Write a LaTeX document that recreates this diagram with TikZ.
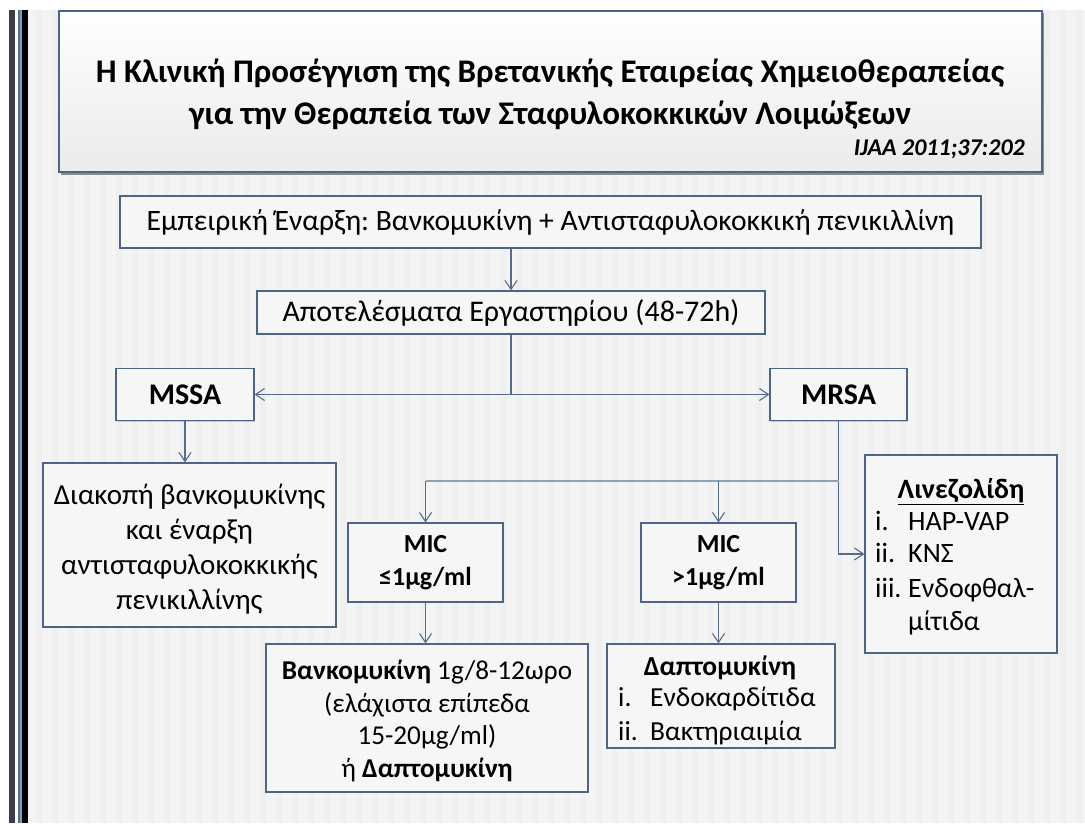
\documentclass[tikz,border=0pt]{standalone}
\usepackage{fontspec}
\setmainfont{Carlito}
\usetikzlibrary{arrows.meta,shadows}
\definecolor{bord}{HTML}{4A6587}
\definecolor{conncol}{HTML}{526D8E}
\definecolor{connlight}{HTML}{8EA3BA}
\definecolor{bgcol}{HTML}{F4F4F4}
\definecolor{stripecol}{HTML}{EFEFEF}
\definecolor{boxfill}{HTML}{F6F6F6}
\definecolor{barA}{HTML}{3C3C4A}
\definecolor{barB}{HTML}{5A6E8C}
\definecolor{barC}{HTML}{7C9CC8}
\frenchspacing
\begin{document}
\begin{tikzpicture}[x=1pt,y=-1pt,
  fbox/.style={draw=bord, line width=1.2pt, fill=boxfill, inner sep=0pt, align=center,
    drop shadow={shadow xshift=1pt, shadow yshift=-1pt, opacity=0.35}},
  conn/.style={draw=conncol, line width=1.1pt},
  connl/.style={draw=connlight, line width=1.1pt},
  arr/.style={conn, -{Straight Barb[length=9pt,width=12pt,line width=1.1pt]}},
  txt/.style={inner sep=0pt, font=\fontsize{28}{33}\selectfont},
]
\useasboundingbox (0,0) rectangle (1085,823);
% background
\fill[white] (0,0) rectangle (1085,823);
\fill[bgcol] (28,10) rectangle (1085,823);
\foreach \sx in {36,52,...,1085} \fill[stripecol] (\sx,10) rectangle ++(6,813);
% left bars
\fill[barA] (9,10) rectangle (15,823);
\fill[barB] (17.5,10) rectangle (20,823);
\fill[barC] (20,10) rectangle (22,823);
\fill[black] (22,10) rectangle (28,823);
% title box
\fill[black!45] (61,13) rectangle (1044,174.5);
\shade[top color=white, bottom color=black!8] (59,11) rectangle (1042,172);
\draw[draw=bord, line width=1.8pt] (59,11) rectangle (1042,172);
\node[inner sep=0pt, align=center, font=\fontsize{33}{42}\bfseries\selectfont] (title) at (550,94)
  {Η Κλινική Προσέγγιση της Βρετανικής Εταιρείας Χημειοθεραπείας\\για την Θεραπεία των Σταφυλοκοκκικών Λοιμώξεων};
\node[inner sep=0pt, anchor=east, font=\fontsize{24}{26}\bfseries\itshape\selectfont] (ref) at (1025,149) {IJAA 2011;37:202};
% boxes
\node[fbox, minimum width=861pt, minimum height=52pt, font=\fontsize{29.6}{34}\selectfont] (b1) at (550.5,222)
  {Εμπειρική Έναρξη: Βανκομυκίνη + Αντισταφυλοκοκκική πενικιλλίνη};
\node[fbox, minimum width=508pt, minimum height=43pt, font=\fontsize{30}{34}\selectfont] (b2) at (511,312.5)
  {Αποτελέσματα Εργαστηρίου (48-72h)};
\node[fbox, minimum width=138pt, minimum height=52pt, font=\fontsize{30}{34}\bfseries\selectfont] (mssa) at (185,394.5) {MSSA};
\node[fbox, minimum width=137pt, minimum height=52pt, font=\fontsize{30}{34}\bfseries\selectfont] (mrsa) at (838.5,394.5) {MRSA};
\node[fbox, minimum width=293pt, minimum height=164pt] (diak) at (189.5,545) {};
\node[txt, align=center, font=\fontsize{29}{35}\selectfont] (diakT) at (189.5,549.5)
  {Διακοπή βανκομυκίνης\\και έναρξη\\αντισταφυλοκοκκικής\\πενικιλλίνης};
\node[fbox, minimum width=155pt, minimum height=79pt, font=\fontsize{26}{33}\bfseries\selectfont] (mic1) at (425.5,562.5)
  {MIC\\≤1μg/ml};
\node[fbox, minimum width=155pt, minimum height=79pt, font=\fontsize{26}{33}\bfseries\selectfont] (mic2) at (718.5,562.5)
  {MIC\\>1μg/ml};
\node[fbox, minimum width=192pt, minimum height=198pt] (lin) at (961,554) {};
\node[fbox, minimum width=322pt, minimum height=148pt] (vanc) at (427,718) {};
\node[txt, align=center, font=\fontsize{27.2}{32.5}\selectfont] (vancT) at (427,721)
  {\textbf{Βανκομυκίνη} 1g/8-12ωρο\\(ελάχιστα επίπεδα\\15-20μg/ml)\\ή \textbf{Δαπτομυκίνη}};
\node[fbox, minimum width=228pt, minimum height=104pt] (dapt) at (721,696) {};
% linezolid text
\node[txt, anchor=base, font=\fontsize{28}{34}\bfseries\selectfont] (linH) at (961,498) {\underline{Λινεζολίδη}};
\node[txt, anchor=base west] (linI1) at (875,530) {i.};
\node[txt, anchor=base west] (linT1) at (908,530) {HAP-VAP};
\node[txt, anchor=base west] (linI2) at (875,562) {ii.};
\node[txt, anchor=base west] (linT2) at (908,562) {ΚΝΣ};
\node[txt, anchor=base west] (linI3) at (875,597) {iii.};
\node[txt, anchor=base west] (linT3) at (908,597) {Ενδοφθαλ-};
\node[txt, anchor=base west] (linT4) at (908,630) {μίτιδα};
% daptomycin text
\node[txt, anchor=base, font=\fontsize{27.5}{34}\bfseries\selectfont] (dapH) at (720,675) {Δαπτομυκίνη};
\node[txt, anchor=base west, font=\fontsize{27.5}{34}\selectfont] (dapI1) at (618,706) {i.};
\node[txt, anchor=base west, font=\fontsize{27.5}{34}\selectfont] (dapT1) at (650,706) {Ενδοκαρδίτιδα};
\node[txt, anchor=base west, font=\fontsize{27.5}{34}\selectfont] (dapI2) at (618,740) {ii.};
\node[txt, anchor=base west, font=\fontsize{27.5}{34}\selectfont] (dapT2) at (650,740) {Βακτηριαιμία};
% connectors
\coordinate (j1) at (511,394.5);
\coordinate (j2) at (838.5,481);
\draw[arr] (b2.north |- b1.south) -- (b2.north);
\draw[conn] (b2.south) -- (j1);
\draw[arr] (j1) -- (mssa.east);
\draw[arr] (j1) -- (mrsa.west);
\draw[arr] (mssa.south) -- (mssa.south |- diak.north);
\draw[arr] (mrsa.south) |- (lin.west);
\draw[connl] (j2) -- (mic1.north |- j2);
\draw[arr] (mic1.north |- j2) -- (mic1.north);
\draw[arr] (mic2.north |- j2) -- (mic2.north);
\draw[arr] (mic1.south) -- (mic1.south |- vanc.north);
\draw[arr] (mic2.south) -- (mic2.south |- dapt.north);
\end{tikzpicture}
\end{document}
